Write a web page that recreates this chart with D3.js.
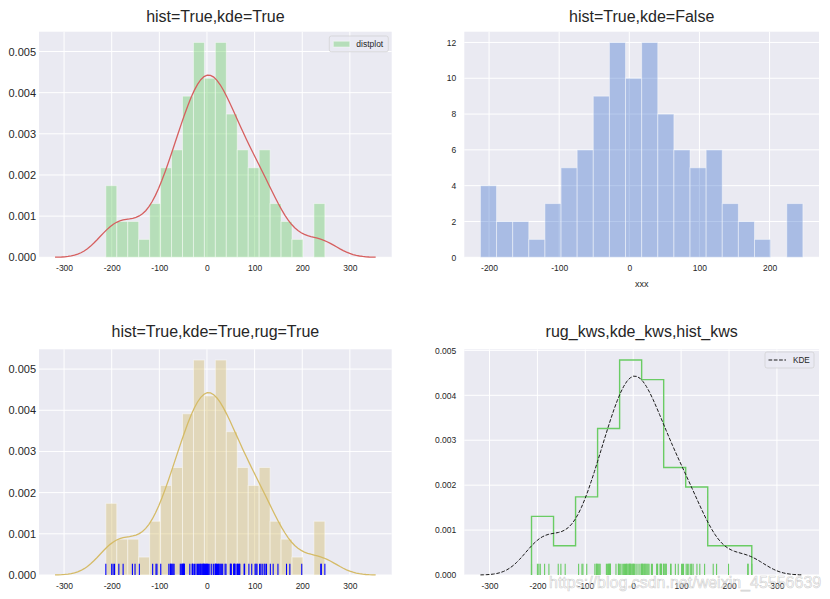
<!DOCTYPE html>
<html><head><meta charset="utf-8">
<script src="https://cdn.jsdelivr.net/npm/d3@7"></script>
<style>
body{margin:0;background:#fff}
svg{display:block}
text{font-family:"Liberation Sans",Arial,sans-serif}
</style>
</head><body>
<svg id="c" width="830" height="599"></svg>
<script>
const samples = [
  -212.3, -200, -197, -194,
  -185, -176,
  -156.5, -151,
  -142,
  -114, -107, -105,
  -97, -80, -77, -76, -75,
  -73, -71, -69, -56, -54, -52,
  -51, -50, -49, -48, -47.5, -36, -31, -30.5, -29,
  -26, -23, -20, -18, -16, -14, -13, -11, -9, -8, -7, -6,
  -5, -3, -1, 0, 1, 3, 6, 10, 14, 17,
  18, 19, 20, 22, 24, 25, 27, 29, 31, 33, 38, 40,
  49, 50, 51, 56, 57, 58, 59, 63,
  64, 66, 68, 69, 78, 79,
  88, 94, 101, 103, 105,
  110.5, 113, 116, 120, 122, 125,
  133, 139, 149,
  167, 174,
  199,
  239, 240, 247.5
];
const titles = ["hist=True,kde=True", "hist=True,kde=False", "hist=True,kde=True,rug=True", "rug_kws,kde_kws,hist_kws"];
const xTicksWide = [-300, -200, -100, 0, 100, 200, 300];
const xTicksNarrow = [-200, -100, 0, 100, 200];
const yTicksDensity = [0, 0.001, 0.002, 0.003, 0.004, 0.005];
const yTicksCount = [0, 2, 4, 6, 8, 10, 12];
const legendLabels = ["distplot", "KDE"];
const xLabelText = "xxx";
const watermark = "https://blog.csdn.net/weixin_45556639";
const binCounts = [20, 10];

// ---- styling ----
const C = {bg: "#EAEAF2", grid: "#ffffff", text: "#262626",
  green: "#6ACC64", red: "#D65F5F", blue: "#4878D0", yellow: "#D5BB67", rug: "#0000FF", kde: "#1a1a1a"};
const tickFont = 8.5;

const svg = d3.select("#c");
const n = samples.length;
const sorted = samples.slice().sort(d3.ascending);
const sd = d3.deviation(samples);
const iqr = d3.quantile(sorted, 0.75) - d3.quantile(sorted, 0.25);
const bw = 1.059 * Math.min(sd, iqr / 1.349) * Math.pow(n, -0.2);
const dMin = d3.min(samples), dMax = d3.max(samples);
const kLo = dMin - 3 * bw, kHi = dMax + 3 * bw;
const grid = d3.range(100).map(i => kLo + (kHi - kLo) * i / 99);
const kde = grid.map(x => [x, d3.sum(samples, v => Math.exp(-0.5 * ((x - v) / bw) ** 2)) / (n * bw * Math.sqrt(2 * Math.PI))]);

function hist(nb) {
  const w = (dMax - dMin) / nb;
  const th = d3.range(1, nb).map(i => dMin + i * w);
  return d3.bin().domain([dMin, dMax]).thresholds(th)(samples)
    .map(b => ({x0: b.x0, x1: b.x1, count: b.length, density: b.length / (n * w)}));
}
const h20 = hist(binCounts[0]);
const h10 = hist(binCounts[1]);

function pad(lo, hi) { const r = hi - lo; return [lo - 0.05 * r, hi + 0.05 * r]; }

const boxes = [
  {x0: 39, x1: 391.7, y0: 31.7, y1: 257.3, ypad: 3, yfont: 11},
  {x0: 464.3, x1: 819, y0: 31.7, y1: 257.3, ypad: 8, yfont: tickFont},
  {x0: 39, x1: 391.7, y0: 349.3, y1: 575, ypad: 3, yfont: 11},
  {x0: 464.3, x1: 819, y0: 349.3, y1: 575, ypad: 8, yfont: tickFont}
];
const titleY = [21.5, 21.5, 337, 337];

function setupPanel(i, xDom, yDom, xTicks, yTicks, yFmt) {
  const b = boxes[i];
  const x = d3.scaleLinear().domain(xDom).range([b.x0, b.x1]);
  const y = d3.scaleLinear().domain(yDom).range([b.y1, b.y0]);
  const g = svg.append("g");
  g.append("rect").attr("x", b.x0).attr("y", b.y0).attr("width", b.x1 - b.x0).attr("height", b.y1 - b.y0).attr("fill", C.bg);
  const gg = g.append("g");
  gg.selectAll("line.gx").data(xTicks).join("line").attr("x1", d => x(d)).attr("x2", d => x(d))
    .attr("y1", b.y0).attr("y2", b.y1).attr("stroke", C.grid).attr("stroke-width", 1);
  gg.selectAll("line.gy").data(yTicks).join("line").attr("y1", d => y(d)).attr("y2", d => y(d))
    .attr("x1", b.x0).attr("x2", b.x1).attr("stroke", C.grid).attr("stroke-width", 1);
  const ax = g.append("g").attr("transform", `translate(0,${b.y1})`)
    .call(d3.axisBottom(x).tickValues(xTicks).tickSize(0).tickPadding(8).tickFormat(d => String(d)));
  ax.select(".domain").remove();
  ax.selectAll("text").attr("fill", C.text).style("font-size", tickFont + "px").style("font-family", '"Liberation Sans",Arial,sans-serif');
  const ay = g.append("g").attr("transform", `translate(${b.x0},0)`)
    .call(d3.axisLeft(y).tickValues(yTicks).tickSize(0).tickPadding(b.ypad).tickFormat(yFmt));
  ay.select(".domain").remove();
  ay.selectAll("text").attr("fill", C.text).style("font-size", b.yfont + "px").style("font-family", '"Liberation Sans",Arial,sans-serif');
  svg.append("text").attr("x", (b.x0 + b.x1) / 2).attr("y", titleY[i]).attr("text-anchor", "middle")
    .attr("fill", C.text).style("font-size", "16px").text(titles[i]);
  const content = g.append("g");
  return {x, y, g: content, b};
}

const kdeXDom = pad(Math.min(kLo, dMin), Math.max(kHi, dMax));
const fmtD = d3.format(".3f");
const line = (x, y) => d3.line().x(d => x(d[0])).y(d => y(d[1]));

function bars(p, data, color, key) {
  p.g.selectAll("rect.bar").data(data).join("rect")
    .attr("x", d => p.x(d.x0)).attr("width", d => p.x(d.x1) - p.x(d.x0))
    .attr("y", d => p.y(d[key])).attr("height", d => p.y(0) - p.y(d[key]))
    .attr("fill", color).attr("fill-opacity", 0.4)
    .attr("stroke", "#fff").attr("stroke-opacity", 0.45).attr("stroke-width", 1);
}
function rug(p, color) {
  const hgt = 0.05 * (p.b.y1 - p.b.y0);
  p.g.selectAll("line.rug").data(samples).join("line")
    .attr("x1", d => p.x(d)).attr("x2", d => p.x(d))
    .attr("y1", p.b.y1).attr("y2", p.b.y1 - hgt)
    .attr("stroke", color).attr("stroke-width", 1.1);
}

// Panel 1
{
  const ymax = Math.max(d3.max(h20, d => d.density), d3.max(kde, d => d[1])) * 1.05;
  const p = setupPanel(0, kdeXDom, [0, ymax], xTicksWide, yTicksDensity, fmtD);
  bars(p, h20, C.green, "density");
  p.g.append("path").datum(kde).attr("d", line(p.x, p.y)).attr("fill", "none").attr("stroke", C.red).attr("stroke-width", 1.3);
  // legend
  const lx = 329.3, ly = 36, lw = 59, lh = 15.7;
  p.g.append("rect").attr("x", lx).attr("y", ly).attr("width", lw).attr("height", lh).attr("rx", 2)
    .attr("fill", C.bg).attr("fill-opacity", 0.8).attr("stroke", "#cccccc").attr("stroke-opacity", 0.8).attr("stroke-width", 0.8);
  p.g.append("rect").attr("x", lx + 4).attr("y", ly + 5.2).attr("width", 16.5).attr("height", 5.8)
    .attr("fill", C.green).attr("fill-opacity", 0.4).attr("stroke", "#fff").attr("stroke-opacity", 0.45);
  p.g.append("text").attr("x", lx + 27).attr("y", ly + 11).attr("fill", C.text).style("font-size", tickFont + "px").text(legendLabels[0]);
}
// Panel 2
{
  const xd = pad(dMin, dMax);
  const ymax = d3.max(h20, d => d.count) * 1.05;
  const p = setupPanel(1, xd, [0, ymax], xTicksNarrow, yTicksCount, d => String(d));
  bars(p, h20, C.blue, "count");
  svg.append("text").attr("x", (p.b.x0 + p.b.x1) / 2).attr("y", 287).attr("text-anchor", "middle")
    .attr("fill", C.text).style("font-size", "9px").text(xLabelText);
}
// Panel 3
{
  const ymax = Math.max(d3.max(h20, d => d.density), d3.max(kde, d => d[1])) * 1.05;
  const p = setupPanel(2, kdeXDom, [0, ymax], xTicksWide, yTicksDensity, fmtD);
  bars(p, h20, C.yellow, "density");
  p.g.append("path").datum(kde).attr("d", line(p.x, p.y)).attr("fill", "none").attr("stroke", C.yellow).attr("stroke-width", 1.3);
  rug(p, C.rug);
}
// Panel 4
{
  const ymax = Math.max(d3.max(h10, d => d.density), d3.max(kde, d => d[1])) * 1.05;
  const p = setupPanel(3, kdeXDom, [0, ymax], xTicksWide, yTicksDensity, fmtD);
  const stepPts = [[h10[0].x0, 0]];
  h10.forEach(d => { stepPts.push([d.x0, d.density]); stepPts.push([d.x1, d.density]); });
  stepPts.push([h10[h10.length - 1].x1, 0]);
  p.g.append("path").datum(stepPts).attr("d", line(p.x, p.y)).attr("fill", "none").attr("stroke", C.green).attr("stroke-width", 1.4);
  p.g.append("path").datum(kde).attr("d", line(p.x, p.y)).attr("fill", "none").attr("stroke", C.kde)
    .attr("stroke-width", 1).attr("stroke-dasharray", "3.7,1.6");
  rug(p, C.green);
  const lx = 765, ly = 352, lw = 49, lh = 16;
  p.g.append("rect").attr("x", lx).attr("y", ly).attr("width", lw).attr("height", lh).attr("rx", 2)
    .attr("fill", C.bg).attr("fill-opacity", 0.8).attr("stroke", "#cccccc").attr("stroke-opacity", 0.8).attr("stroke-width", 0.8);
  p.g.append("line").attr("x1", lx + 3.5).attr("x2", lx + 21).attr("y1", ly + 8).attr("y2", ly + 8)
    .attr("stroke", C.kde).attr("stroke-width", 1).attr("stroke-dasharray", "3.7,1.6");
  p.g.append("text").attr("x", lx + 28).attr("y", ly + 11).attr("fill", C.text).style("font-size", "8.2px").text(legendLabels[1]);
}
// watermark
svg.append("text").attr("x", 549).attr("y", 588).style("font-size", "16px")
  .attr("fill", "#ffffff").attr("fill-opacity", 0.55).attr("stroke", "#9a9a9a").attr("stroke-opacity", 0.45).attr("stroke-width", 0.7)
  .text(watermark);
</script>
</body></html>
